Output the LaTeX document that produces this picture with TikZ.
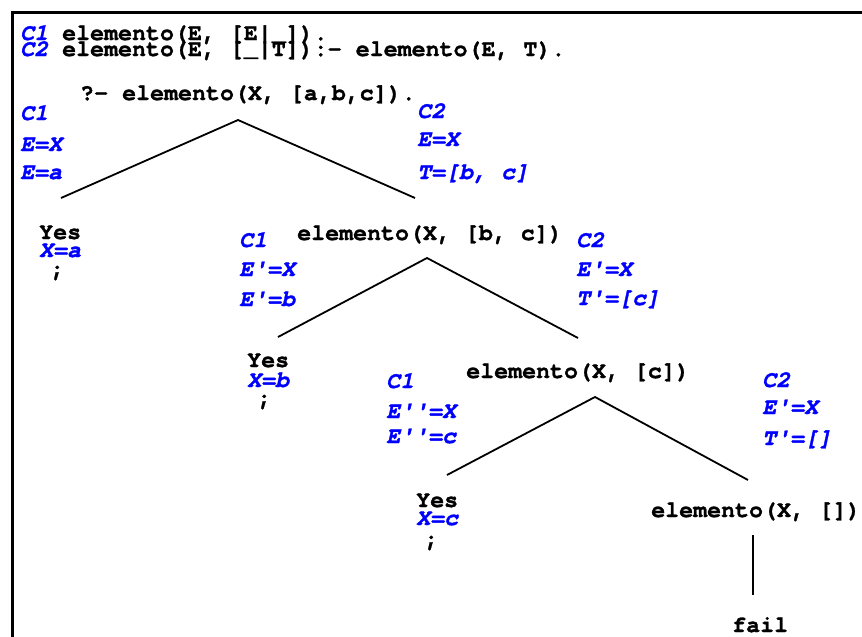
\documentclass[tikz,border=0pt]{standalone}
\usepackage{fontspec}
\setmonofont{TeX Gyre Cursor}[BoldFeatures={FakeBold=1.3},BoldItalicFeatures={FakeBold=1.3}]
\definecolor{lblue}{RGB}{0,0,255}
\newcommand\cfont{\fontsize{23.3}{28}\selectfont\ttfamily\bfseries}
\tikzset{
  txt/.style={anchor=base west, inner sep=0pt, font=\cfont},
  lbl/.style={txt, text=lblue, font=\cfont\itshape},
  edge/.style={line width=1.8pt},
  frame/.style={line width=3pt},
}
\begin{document}
\begin{tikzpicture}[x=1pt,y=-1pt]
\useasboundingbox (0,0) rectangle (862,637);
% frame (top and left sides visible)
\coordinate (fr) at (862,12.5);
\coordinate (fc) at (12.5,12.5);
\coordinate (fb) at (12.5,637);
\draw[frame] (fr) -- (fc) -- (fb);

% program
\node[txt] (c1line) at (20,40) {{\color{lblue}\itshape C1} elemento(E, [E|\_]).};
\node[txt] (c2line) at (20,56) {{\color{lblue}\itshape C2} elemento(E, [\_|T]):- elemento(E, T).};

% root goal
\node[txt] (root) at (80,100) {?- elemento(X, [a,b,c]).};
\node[lbl] (l1a) at (20,120) {C1};
\node[lbl] (l1b) at (20,151) {E=X};
\node[lbl] (l1c) at (20,179) {E=a};
\node[lbl] (r1a) at (417,118) {C2};
\node[lbl] (r1b) at (417,146) {E=X};
\node[lbl] (r1c) at (417,179) {T=[b, c]};

\coordinate (a1) at (238,120);
\coordinate (e1l) at (61,198);
\coordinate (e1r) at (415,198);
\draw[edge] (e1l) -- (a1) -- (e1r);

% first answer
\node[txt] (yes1) at (39,239) {Yes};
\node[lbl] (x1) at (39,257) {X=a};
\node[txt] (sc1) at (50,276) {;};

% level 2
\node[txt] (g2) at (297,240) {elemento(X, [b, c])};
\node[lbl] (l2a) at (239,247) {C1};
\node[lbl] (l2b) at (239,276) {E'=X};
\node[lbl] (l2c) at (239,306) {E'=b};
\node[lbl] (r2a) at (576,247) {C2};
\node[lbl] (r2b) at (576,276) {E'=X};
\node[lbl] (r2c) at (576,305) {T'=[c]};

\coordinate (a2) at (427,258);
\coordinate (e2l) at (278,337);
\coordinate (e2r) at (578,338);
\draw[edge] (e2l) -- (a2) -- (e2r);

% second answer
\node[txt] (yes2) at (247,367) {Yes};
\node[lbl] (x2) at (247,387) {X=b};
\node[txt] (sc2) at (257,405) {;};

% level 3
\node[txt] (g3) at (466,378) {elemento(X, [c])};
\node[lbl] (l3a) at (386,388) {C1};
\node[lbl] (l3b) at (386,418) {E''=X};
\node[lbl] (l3c) at (386,443) {E''=c};
\node[lbl] (r3a) at (762,387) {C2};
\node[lbl] (r3b) at (762,414) {E'=X};
\node[lbl] (r3c) at (762,445) {T'=[]};

\coordinate (a3) at (595,397);
\coordinate (e3l) at (447,475);
\coordinate (e3r) at (748,480);
\draw[edge] (e3l) -- (a3) -- (e3r);

% third answer
\node[txt] (yes3) at (416,507) {Yes};
\node[lbl] (x3) at (416,525) {X=c};
\node[txt] (sc3) at (424,546) {;};

% failing branch
\node[txt] (g4) at (651,517) {elemento(X, [])};
\coordinate (v4t) at (753,535);
\coordinate (v4b) at (753,595);
\draw[edge] (v4t) -- (v4b);
\node[txt] (fail) at (732,632) {fail};
\end{tikzpicture}
\end{document}
